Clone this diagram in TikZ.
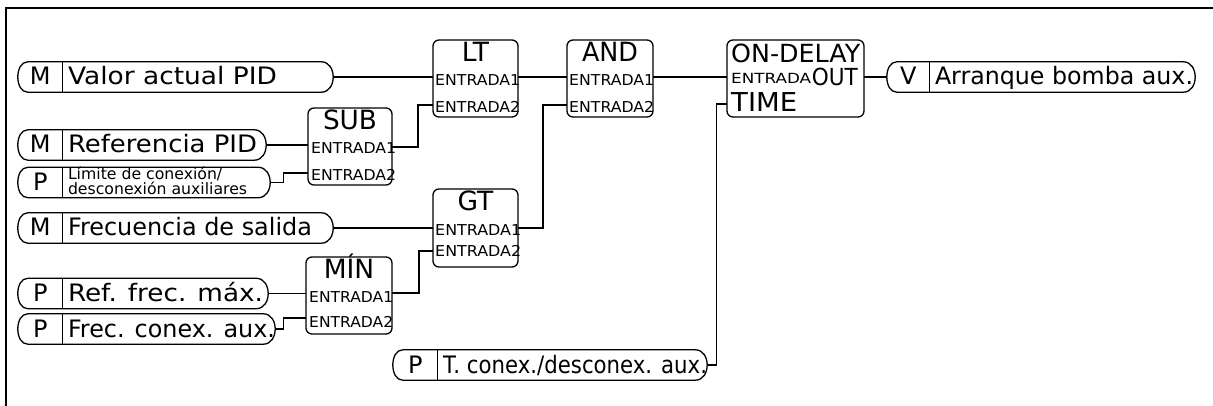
\documentclass[tikz,border=0pt]{standalone}
\usepackage{fontspec}
\usepackage{graphicx}
\setmainfont{DejaVu Sans}
\newcommand\fitw[2]{\resizebox{#1}{\height}{#2}}
\newcommand\inpill[6]{%
  \node[pillbox, minimum width={#3-#2}] (#1) at ({(#2+#3)/2},#4) {};
  \draw[ln] ([xshift=10pt]#1.north west) -- ([xshift=-12pt]#1.north east)
    .. controls ([xshift=4pt]#1.north east) and ([xshift=4pt]#1.south east) .. ([xshift=-12pt]#1.south east)
    -- ([xshift=10pt]#1.south west)
    .. controls ([xshift=-3.33pt]#1.south west) and ([xshift=-3.33pt]#1.north west) .. cycle;
  \draw[ln] ([xshift=#5pt]#1.north west) -- ([xshift=#5pt]#1.south west);
  \node[lettr] (#1-l) at ([xshift={(#5/2)*1pt}, yshift=-8pt]#1.west) {#6};
}
\begin{document}
\begin{tikzpicture}[x=1pt,y=-1pt,
  ln/.style={line width=1.3pt, black},
  pillbox/.style={rectangle, draw=none, minimum height=30pt, inner sep=0pt},
  blk/.style={draw, line width=1.3pt, rounded corners=6pt, inner sep=0pt, minimum height=77pt},
  big/.style={font=\fontsize{24}{28}\selectfont, inner sep=0pt, anchor=base west},
  ttl/.style={font=\fontsize{26.5}{28}\selectfont, inner sep=0pt, anchor=base},
  port/.style={font=\fontsize{15}{17}\selectfont, inner sep=0pt, anchor=base west},
  lettr/.style={font=\fontsize{24}{28}\selectfont, inner sep=0pt, anchor=base},
]
\useasboundingbox (0,0) rectangle (1213,406);
\draw[line width=1.5pt] (6,406) -- (6,8) -- (1213,8);

% input / output pills
\inpill{pv}{18}{333}{77}{45}{M}
\node[big] (pv-t) at ([xshift=50pt,yshift=-8pt]pv.west) {\fitw{209pt}{Valor actual PID}};
\inpill{pr}{18}{266}{145}{45}{M}
\node[big] (pr-t) at ([xshift=50pt,yshift=-8pt]pr.west) {\fitw{189pt}{Referencia PID}};
\inpill{pl}{18}{270}{182.5}{45}{P}
\node[font=\fontsize{15.7}{14}\selectfont, inner sep=0pt, anchor=base west, align=left] (pl-t) at ([xshift=50pt,yshift=-12pt]pl.west) {Límite de conexión/\\desconexión auxiliares};
\inpill{pf}{18}{333}{228}{45}{M}
\node[big] (pf-t) at ([xshift=50pt,yshift=-8pt]pf.west) {\fitw{244pt}{Frecuencia de salida}};
\inpill{pm}{18}{268}{293.5}{45}{P}
\node[big] (pm-t) at ([xshift=50pt,yshift=-8pt]pm.west) {\fitw{195pt}{Ref. frec. máx.}};
\inpill{pc}{18}{275}{329}{45}{P}
\node[big] (pc-t) at ([xshift=50pt,yshift=-8pt]pc.west) {\fitw{207pt}{Frec. conex. aux.}};
\inpill{pt}{393}{707}{365}{45}{P}
\node[big] (pt-t) at ([xshift=50pt,yshift=-8pt]pt.west) {\fitw{264pt}{T. conex./desconex. aux.}};
\inpill{po}{887}{1195}{77}{43}{V}
\node[big] (po-t) at ([xshift=48pt,yshift=-8pt]po.west) {\fitw{258pt}{Arranque bomba aux.}};

% blocks
\node[blk, minimum width=85pt] (lt) at (475.5,78.5) {};
\node[ttl] (lt-ttl) at (475.5,62) {LT};
\node[port] (lt-e1) at (435,86) {\fitw{85pt}{ENTRADA1}};
\node[port] (lt-e2) at (435,113) {\fitw{85pt}{ENTRADA2}};

\node[blk, minimum width=86pt] (and) at (610,78.5) {};
\node[ttl] (and-ttl) at (610,62) {\fitw{56pt}{AND}};
\node[port] (and-e1) at (569,86) {\fitw{85pt}{ENTRADA1}};
\node[port] (and-e2) at (569,113) {\fitw{85pt}{ENTRADA2}};

\node[blk, minimum width=84pt] (sub) at (350,146.5) {};
\node[ttl] (sub-ttl) at (350,130) {\fitw{54pt}{SUB}};
\node[port] (sub-e1) at (311,154) {\fitw{85pt}{ENTRADA1}};
\node[port] (sub-e2) at (311,181) {\fitw{85pt}{ENTRADA2}};

\node[blk, minimum width=85pt, minimum height=78pt] (gt) at (475.5,228) {};
\node[ttl] (gt-ttl) at (475.5,211) {GT};
\node[port] (gt-e1) at (435,236) {\fitw{86pt}{ENTRADA1}};
\node[port] (gt-e2) at (435,257) {\fitw{86pt}{ENTRADA2}};

\node[blk, minimum width=86pt] (min) at (349,295.5) {};
\node[ttl] (min-ttl) at (349,279) {MÍN};
\node[port] (min-e1) at (309,302) {\fitw{84pt}{ENTRADA1}};
\node[port] (min-e2) at (309,327) {\fitw{84pt}{ENTRADA2}};

\node[blk, minimum width=137pt] (ond) at (795.5,78.5) {};
\node[font=\fontsize{25}{28}\selectfont, inner sep=0pt, anchor=base west] (ond-ttl) at (731,63) {\fitw{129pt}{ON-DELAY}};
\node[font=\fontsize{14}{17}\selectfont, inner sep=0pt, anchor=base west] (ond-e) at (731,84) {\fitw{80pt}{ENTRADA}};
\node[font=\fontsize{23.5}{28}\selectfont, inner sep=0pt, anchor=base east] (ond-out) at (858,86) {\fitw{46pt}{OUT}};
\node[font=\fontsize{26}{28}\selectfont, inner sep=0pt, anchor=base west] (ond-time) at (731,112) {\fitw{66pt}{TIME}};

% ports
\coordinate (lt-i1) at (433,77);
\coordinate (lt-i2) at (433,105);
\coordinate (lt-o) at (518,77);
\coordinate (and-i1) at (567,77);
\coordinate (and-i2) at (567,105);
\coordinate (and-o) at (653,77);
\coordinate (sub-i1) at (308,145);
\coordinate (sub-i2) at (308,173);
\coordinate (sub-o) at (392,147);
\coordinate (gt-i1) at (433,228);
\coordinate (gt-i2) at (433,251);
\coordinate (gt-o) at (518,228);
\coordinate (min-i1) at (306,293.5);
\coordinate (min-i2) at (306,318);
\coordinate (min-o) at (392,293);
\coordinate (ond-i) at (727,77);
\coordinate (ond-t) at (727,104);
\coordinate (ond-o) at (864,77);

% connectors
\draw[ln] (pv.east) -- (lt-i1);
\draw[ln] (pr.east) -- (sub-i1);
\draw[ln] (pl.east) -- ++(13,0) |- (sub-i2);
\draw[ln] (sub-o) -- ++(26,0) |- (lt-i2);
\draw[ln] (lt-o) -- (and-i1);
\draw[ln] (and-o) -- (ond-i);
\draw[ln] (gt-o) -- ++(25,0) |- (and-i2);
\draw[ln] (pf.east) -- (gt-i1);
\draw[ln] (min-o) -- ++(27,0) |- (gt-i2);
\draw[ln] (pm.east) -- (min-i1);
\draw[ln] (pc.east) -- ++(8,0) |- (min-i2);
\draw[ln] (pt.east) -- ++(9,0) |- (ond-t);
\draw[ln] (ond-o) -- (po.west);
\end{tikzpicture}
\end{document}
